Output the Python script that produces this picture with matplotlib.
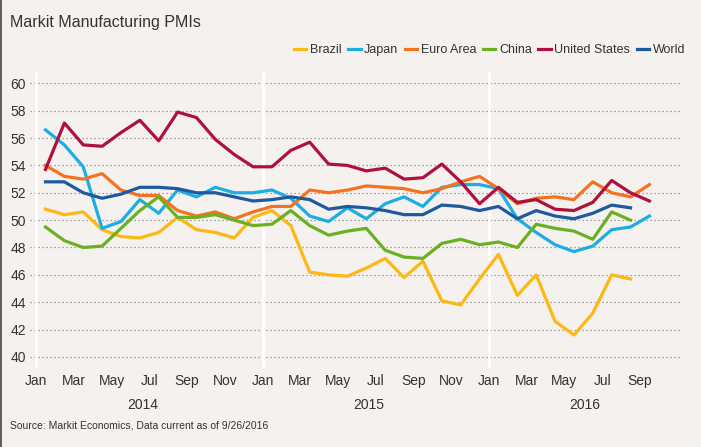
import numpy as np
import matplotlib
matplotlib.use('Agg')
import matplotlib.pyplot as plt
from matplotlib.lines import Line2D

plt.rcParams['font.family'] = ['Liberation Sans', 'DejaVu Sans']

# monthly PMI, Jan 2014 onwards
brazil = [50.8, 50.4, 50.6, 49.3, 48.8, 48.7, 49.1, 50.2, 49.3, 49.1, 48.7, 50.2,
          50.7, 49.6, 46.2, 46.0, 45.9, 46.5, 47.2, 45.8, 47.0, 44.1, 43.8, 45.7,
          47.5, 44.5, 46.0, 42.6, 41.6, 43.2, 46.0, 45.7]
japan = [56.6, 55.5, 53.9, 49.4, 49.9, 51.5, 50.5, 52.2, 51.7, 52.4, 52.0, 52.0,
         52.2, 51.6, 50.3, 49.9, 50.9, 50.1, 51.2, 51.7, 51.0, 52.4, 52.6, 52.6,
         52.3, 50.1, 49.1, 48.2, 47.7, 48.1, 49.3, 49.5, 50.3]
euro = [54.0, 53.2, 53.0, 53.4, 52.2, 51.8, 51.8, 50.7, 50.3, 50.6, 50.1, 50.6,
        51.0, 51.0, 52.2, 52.0, 52.2, 52.5, 52.4, 52.3, 52.0, 52.3, 52.8, 53.2,
        52.3, 51.2, 51.6, 51.7, 51.5, 52.8, 52.0, 51.7, 52.6]
china = [49.5, 48.5, 48.0, 48.1, 49.4, 50.7, 51.7, 50.2, 50.2, 50.4, 50.0, 49.6,
         49.7, 50.7, 49.6, 48.9, 49.2, 49.4, 47.8, 47.3, 47.2, 48.3, 48.6, 48.2,
         48.4, 48.0, 49.7, 49.4, 49.2, 48.6, 50.6, 50.0]
us = [53.7, 57.1, 55.5, 55.4, 56.4, 57.3, 55.8, 57.9, 57.5, 55.9, 54.8, 53.9,
      53.9, 55.1, 55.7, 54.1, 54.0, 53.6, 53.8, 53.0, 53.1, 54.1, 52.8, 51.2,
      52.4, 51.3, 51.5, 50.8, 50.7, 51.3, 52.9, 52.0, 51.4]
world = [52.8, 52.8, 52.0, 51.6, 51.9, 52.4, 52.4, 52.3, 52.0, 52.0, 51.7, 51.4,
         51.5, 51.7, 51.5, 50.8, 51.0, 50.9, 50.7, 50.4, 50.4, 51.1, 51.0, 50.7,
         51.0, 50.1, 50.7, 50.3, 50.1, 50.5, 51.1, 50.9]

series = [('Brazil', brazil, '#fdb813'),
          ('Japan', japan, '#1cade4'),
          ('Euro Area', euro, '#f47320'),
          ('China', china, '#6bb023'),
          ('United States', us, '#b0103f'),
          ('World', world, '#1d5a9e')]

month_labels = ['Jan', 'Mar', 'May', 'Jul', 'Sep', 'Nov'] * 2 + ['Jan', 'Mar', 'May', 'Jul', 'Sep']
years = ['2014', '2015', '2016']

bg = '#f4f1ee'
txt = '#333333'
fig = plt.figure(figsize=(7.01, 4.47), dpi=100, facecolor=bg)
ax = fig.add_axes([30 / 701, 1 - 368 / 447, 650 / 701, 296 / 447])
ax.set_facecolor(bg)

for name, vals, col in series:
    x = np.arange(len(vals)) + 0.5
    ax.plot(x, vals, color=col, lw=2.3, label=name)

ax.set_xlim(-0.32, 34.12)
ax.set_ylim(39.19, 60.83)
ax.set_yticks(np.arange(40, 61, 2))
ax.set_xticks(np.arange(0, 33, 2))
ax.set_xticklabels(month_labels)
for yv in np.arange(40, 61, 2):
    ax.axhline(yv, color='#8a8a8a', lw=0.9, ls=(0, (1, 2.2)), zorder=0)
for xv in (0, 12, 24):
    ax.axvline(xv, color='white', lw=2, zorder=0.5)

for s in ax.spines.values():
    s.set_visible(False)
ax.tick_params(length=0, labelsize=10, colors=txt)
ax.tick_params(axis='x', pad=4)
ax.tick_params(axis='y', pad=3)

for xc, yr in zip((5.65, 17.65, 29.06), years):
    ax.text(xc, -0.125, yr, transform=ax.get_xaxis_transform(), ha='center', va='center',
            fontsize=10, color=txt)

fig.text(10 / 701, 1 - 22 / 447, 'Markit Manufacturing PMIs', fontsize=11.5, color=txt,
         ha='left', va='center')
fig.text(10 / 701, 1 - 425 / 447, 'Source: Markit Economics, Data current as of 9/26/2016',
         fontsize=7.5, color=txt, ha='left', va='center')

fig.legend(loc='center right', bbox_to_anchor=(694 / 701, 1 - 50 / 447), ncol=6, frameon=False,
           handlelength=1.0, handletextpad=0.3, columnspacing=0.5, fontsize=9,
           labelcolor=txt, borderpad=0.2)

fig.add_artist(Line2D([0.5 / 701, 0.5 / 701], [0, 1], color='#444444', lw=1.2))

fig.savefig('out.png', dpi=100, facecolor=bg)
